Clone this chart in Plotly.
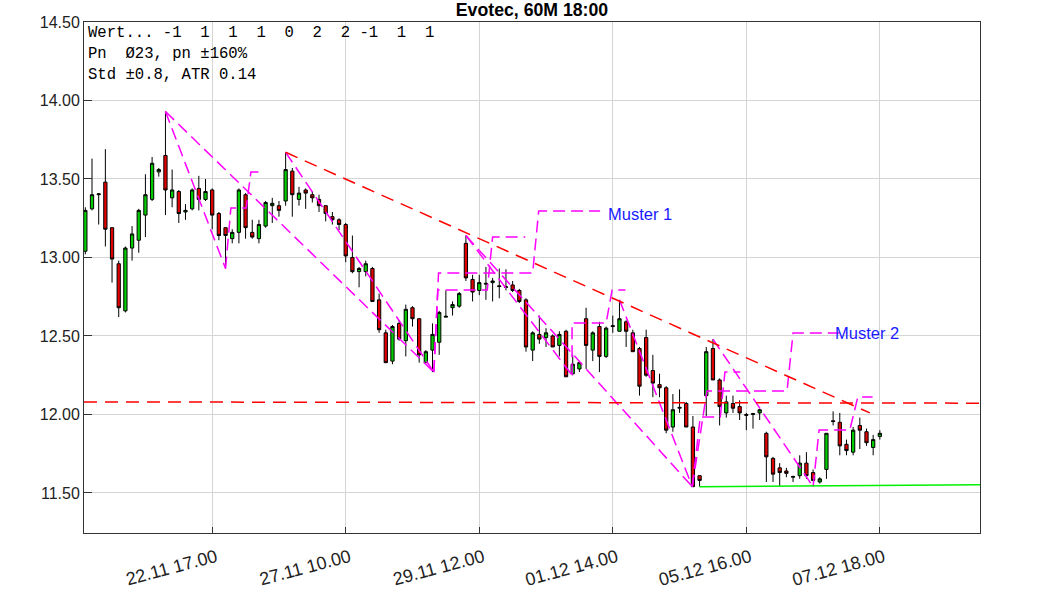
import plotly.graph_objects as go

# ---------------- data ----------------
opens = [13.04, 13.31, 13.40, 13.48, 13.19, 12.96, 12.66, 13.06, 13.11, 13.27,
         13.37, 13.545, 13.65, 13.38, 13.42, 13.29, 13.31, 13.44, 13.37, 13.43,
         13.28, 13.19, 13.12, 13.16, 13.40, 13.16, 13.12, 13.20, 13.33, 13.33,
         13.36, 13.55, 13.37, 13.43, 13.40, 13.37, 13.33, 13.26, 13.24, 13.21,
         13.00, 12.91, 12.91, 12.93, 12.73, 12.52, 12.34, 12.58, 12.47, 12.68,
         12.61, 12.33, 12.41, 12.46, 12.62, 12.68, 12.69, 13.09, 12.86, 12.79,
         12.83, 12.84, 12.82, 12.814, 12.825, 12.79, 12.73, 12.41, 12.51, 12.49,
         12.50, 12.44, 12.53, 12.26, 12.29, 12.61, 12.41, 12.56, 12.37, 12.56,
         12.53, 12.59, 12.52, 12.42, 12.49, 12.28, 12.19, 12.17, 11.92, 12.04,
         12.07, 11.92, 11.61, 12.12, 12.42, 12.22, 12.01, 12.07, 12.05, 12.00,
         12.00, 12.01, 11.88, 11.72, 11.66, 11.64, 11.60, 11.61, 11.69, 11.63,
         11.57, 11.65, 11.96, 11.95, 11.81, 11.76, 11.93, 11.89, 11.79, 11.86]
highs = [13.32, 13.63, 13.41, 13.69, 13.19, 12.98, 13.07, 13.20, 13.31, 13.53,
         13.64, 13.57, 13.93, 13.56, 13.43, 13.34, 13.44, 13.52, 13.50, 13.44,
         13.29, 13.19, 13.18, 13.44, 13.41, 13.24, 13.24, 13.36, 13.38, 13.36,
         13.67, 13.57, 13.45, 13.44, 13.42, 13.40, 13.33, 13.29, 13.25, 13.22,
         13.14, 12.94, 12.98, 12.94, 12.77, 12.54, 12.57, 12.60, 12.70, 12.69,
         12.61, 12.41, 12.58, 12.66, 12.79, 12.72, 12.78, 13.14, 12.89, 12.89,
         12.94, 12.87, 12.93, 12.925, 12.85, 12.80, 12.74, 12.53, 12.63, 12.55,
         12.51, 12.53, 12.54, 12.38, 12.34, 12.68, 12.53, 12.59, 12.56, 12.63,
         12.73, 12.60, 12.54, 12.43, 12.54, 12.38, 12.26, 12.18, 12.13, 12.16,
         12.08, 11.99, 11.61, 12.43, 12.48, 12.23, 12.12, 12.12, 12.09, 12.01,
         12.01, 12.035, 11.89, 11.73, 11.69, 11.66, 11.61, 11.74, 11.76, 11.65,
         11.60, 11.88, 12.02, 12.01, 11.84, 11.92, 11.98, 11.91, 11.87, 11.90]
lows = [13.02, 13.30, 13.21, 13.07, 12.84, 12.62, 12.65, 12.98, 13.03, 13.13,
        13.36, 13.515, 13.27, 13.32, 13.22, 13.24, 13.30, 13.30, 13.36, 13.18,
        13.11, 12.93, 13.09, 13.09, 13.12, 13.12, 13.09, 13.19, 13.22, 13.26,
        13.33, 13.26, 13.33, 13.31, 13.35, 13.29, 13.23, 13.21, 13.175, 12.97,
        12.90, 12.81, 12.88, 12.72, 12.52, 12.33, 12.32, 12.47, 12.37, 12.56,
        12.33, 12.33, 12.27, 12.38, 12.62, 12.63, 12.68, 12.85, 12.72, 12.76,
        12.73, 12.72, 12.74, 12.79, 12.78, 12.71, 12.40, 12.34, 12.45, 12.43,
        12.43, 12.37, 12.24, 12.25, 12.27, 12.29, 12.34, 12.27, 12.36, 12.52,
        12.53, 12.43, 12.40, 12.12, 12.24, 12.11, 12.11, 11.88, 11.89, 12.01,
        11.92, 11.54, 11.54, 11.99, 12.22, 11.93, 11.98, 12.01, 11.965, 11.90,
        11.91, 11.965, 11.57, 11.57, 11.545, 11.60, 11.57, 11.59, 11.59, 11.575,
        11.56, 11.59, 11.93, 11.74, 11.74, 11.74, 11.78, 11.80, 11.74, 11.84]
closes = [13.30, 13.40, 13.405, 13.18, 12.99, 12.68, 13.06, 13.15, 13.30, 13.40,
          13.60, 13.56, 13.43, 13.43, 13.28, 13.30, 13.43, 13.37, 13.42, 13.27,
          13.14, 13.14, 13.16, 13.43, 13.19, 13.13, 13.21, 13.35, 13.345, 13.30,
          13.56, 13.40, 13.41, 13.41, 13.38, 13.33, 13.28, 13.24, 13.21, 13.01,
          12.91, 12.93, 12.96, 12.72, 12.54, 12.33, 12.56, 12.48, 12.67, 12.61,
          12.38, 12.40, 12.51, 12.65, 12.625, 12.70, 12.77, 12.87, 12.78, 12.84,
          12.835, 12.85, 12.815, 12.81, 12.79, 12.72, 12.43, 12.52, 12.48, 12.52,
          12.43, 12.51, 12.24, 12.32, 12.33, 12.44, 12.52, 12.37, 12.55, 12.565,
          12.61, 12.53, 12.40, 12.18, 12.25, 12.20, 12.17, 11.90, 12.03, 12.045,
          11.92, 11.54, 11.58, 12.40, 12.22, 12.05, 12.08, 12.04, 12.01, 11.995,
          12.005, 12.03, 11.73, 11.62, 11.63, 11.625, 11.605, 11.69, 11.61, 11.58,
          11.59, 11.88, 11.955, 11.80, 11.77, 11.90, 11.90, 11.82, 11.84, 11.88]

tick_index = [19, 39, 59, 79, 99, 119]
tick_text = ["22.11 17.00", "27.11 10.00", "29.11 12.00",
             "01.12 14.00", "05.12 16.00", "07.12 18.00"]
y_ticks = [11.5, 12.0, 12.5, 13.0, 13.5, 14.0, 14.5]

# pattern legs (bar index, price)
pattern_legs = [
    [(12, 13.93), (21, 12.93)],
    [(12, 13.93), (52.2, 12.27)],
    [(30, 13.67), (52.2, 12.27)],
    [(57, 13.14), (72.9, 12.25)],
    [(57, 13.14), (90.9, 11.54)],
    [(80, 12.73), (90.9, 11.54)],
    [(94, 12.48), (109, 11.54)],
]
# projection staircases (bar index, price)
stairs = [
    [(21, 12.93), (21.8, 13.315), (24.1, 13.315), (24.8, 13.545), (26.8, 13.545)],
    [(52.2, 12.27), (52.8, 12.793), (60.2, 12.793), (61.0, 13.131), (65.9, 13.131)],
    [(52.2, 12.27), (52.9, 12.901), (67.0, 12.901), (67.9, 13.296), (77.1, 13.296)],
    [(72.9, 12.25), (72.9, 12.583), (78.0, 12.583), (78.9, 12.793), (80.9, 12.793)],
    [(90.9, 11.54), (92.1, 11.984), (95.1, 11.984), (95.8, 12.271), (98.1, 12.271)],
    [(90.9, 11.54), (93.1, 12.150), (105.1, 12.150), (106.0, 12.519), (114.1, 12.519)],
    [(109, 11.54), (109.9, 11.901), (114.5, 11.901), (115.7, 12.111), (117.9, 12.111)],
]
pattern_labels = [("Muster 1", 78.0, 13.28), ("Muster 2", 112.0, 12.52)]

red_trend = [(30, 13.67), (117.5, 12.01)]
red_level = [(-0.2, 12.08), (134, 12.072)]
green_support = [(92, 11.54), (134, 11.553)]

info_lines = ["Wert... -1  1  1  1  0  2  2 -1  1  1",
              "Pn  \u00d823, pn \u00b1160%",
              "Std \u00b10.8, ATR 0.14"]

# ---------------- figure ----------------
fig = go.Figure()
idx = list(range(len(opens)))
fig.add_trace(go.Candlestick(
    x=idx, open=opens, high=highs, low=lows, close=closes,
    increasing=dict(fillcolor="#00cc00", line=dict(color="black", width=1)),
    decreasing=dict(fillcolor="#e00000", line=dict(color="black", width=1)),
    whiskerwidth=0, showlegend=False, hoverinfo="skip"))

MAG = "#ff00ff"
for seg in pattern_legs + stairs:
    fig.add_trace(go.Scatter(x=[p[0] for p in seg], y=[p[1] for p in seg],
                             mode="lines", line=dict(color=MAG, width=1.5, dash="12px,6px"),
                             showlegend=False, hoverinfo="skip"))

for seg in (red_trend, red_level):
    fig.add_trace(go.Scatter(x=[p[0] for p in seg], y=[p[1] for p in seg],
                             mode="lines", line=dict(color="#ff0000", width=1.5, dash="13px,8px"),
                             showlegend=False, hoverinfo="skip"))
fig.add_trace(go.Scatter(x=[p[0] for p in green_support], y=[p[1] for p in green_support],
                         mode="lines", line=dict(color="#00f000", width=1.5),
                         showlegend=False, hoverinfo="skip"))

for txt, xi, yp in pattern_labels:
    fig.add_annotation(x=xi, y=yp, text=txt, showarrow=False, xanchor="left",
                       yanchor="middle", font=dict(color="#1a1aff", size=16.5,
                                                   family="Liberation Sans, Arial"))

for k, line in enumerate(info_lines):
    fig.add_annotation(xref="paper", yref="paper", x=0.002, y=0.978 - k * 0.041,
                       text=line, showarrow=False, xanchor="left", yanchor="middle",
                       font=dict(family="Liberation Mono, DejaVu Sans Mono, monospace",
                                 size=15.6, color="black"))

fig.update_layout(
    width=1063, height=591,
    margin=dict(l=84, r=83, t=22, b=58, autoexpand=False),
    paper_bgcolor="white", plot_bgcolor="white",
    font=dict(family="Liberation Sans, Arial", color="#222222", size=16),
    title=dict(text="<b>Evotec, 60M 18:00</b>", x=0.5, xref="paper", y=1 - 10 / 591,
               yref="container", yanchor="middle", xanchor="center",
               font=dict(size=17.7, color="black", family="Liberation Sans, Arial")),
    showlegend=False,
    xaxis=dict(range=[-0.2, 134], tickmode="array", tickvals=tick_index, ticktext=tick_text,
               tickangle=-15, tickfont=dict(size=18), ticklabelshift=4, ticklabelstandoff=6,
               automargin=False, showgrid=True, gridcolor="#d4d4d4",
               gridwidth=1, showline=True, linecolor="#333333", linewidth=1, mirror=True,
               ticks="inside", ticklen=6, tickcolor="#333333",
               rangeslider=dict(visible=False), zeroline=False),
    yaxis=dict(range=[11.245, 14.5], tickvals=y_ticks, tickformat=".2f", automargin=False,
               showgrid=True, gridcolor="#d4d4d4", gridwidth=1,
               showline=True, linecolor="#333333", linewidth=1, mirror=True,
               ticks="inside", ticklen=8, tickcolor="#333333", zeroline=False),
)

fig.write_html("out.html", config={"displayModeBar": False},
               post_script="document.body.style.margin='0px';"
                           "document.documentElement.style.overflow='hidden';")
